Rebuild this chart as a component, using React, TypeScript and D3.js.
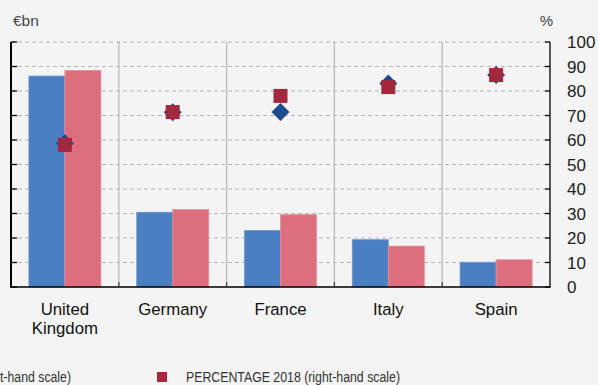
import React from "react";
import * as d3 from "d3";

const categories = ["United Kingdom", "Germany", "France", "Italy", "Spain"];
const amount2017 = [86.1, 30.5, 23.1, 19.3, 10.1];
const amount2018 = [88.4, 31.6, 29.5, 16.7, 11.1];
const pct2017 = [58.7, 71.3, 71.4, 83.1, 86.5];
const pct2018 = [58.0, 71.4, 78.0, 81.6, 86.5];
const ticks = [0, 10, 20, 30, 40, 50, 60, 70, 80, 90, 100];

const W = 598, H = 385;
const L = 11, R = 550, T = 42, B = 287;

export default function App() {
  const x = d3.scaleBand<string>().domain(categories).range([L, R]).paddingInner(0).paddingOuter(0);
  const yL = d3.scaleLinear().domain([0, 100]).range([B, T]);
  const yR = d3.scaleLinear().domain([0, 100]).range([B, T]);
  const bw = x.bandwidth();
  const barW = 36;
  const font = "'Liberation Sans', Arial, Helvetica, sans-serif";
  const diamond = (cx: number, cy: number, r: number) =>
    `M${cx},${cy - r}L${cx + r},${cy}L${cx},${cy + r}L${cx - r},${cy}Z`;

  return (
    <svg width={W} height={H} style={{ position: "absolute", left: 0, top: 0, background: "#f4f4f4" }}>
      <rect x={0} y={0} width={W} height={H} fill="#f4f4f4" />
      <text x={13} y={26} fontFamily={font} fontSize={15.5} fill="#444">€bn</text>
      <text x={553} y={26} fontFamily={font} fontSize={15} fill="#444" textAnchor="end">%</text>
      {/* gridlines */}
      {ticks.filter((t) => t > 0).map((t) => (
        <line key={t} x1={L} x2={R} y1={yL(t)} y2={yL(t)} stroke="#b4b4b8" strokeWidth={1.2} strokeDasharray="4,3" />
      ))}
      {/* separators */}
      {categories.slice(1).map((c) => (
        <line key={c} x1={x(c)!} x2={x(c)!} y1={T} y2={B} stroke="#b9b9bd" strokeWidth={1.3} />
      ))}
      {/* bars */}
      {categories.map((c, i) => {
        const cx = x(c)! + bw / 2;
        return (
          <g key={c}>
            <rect x={cx - barW} y={yL(amount2017[i])} width={barW} height={B - yL(amount2017[i])} fill="#4a7fc1" stroke="#6b97cf" strokeWidth={0.8} />
            <rect x={cx} y={yL(amount2018[i])} width={barW} height={B - yL(amount2018[i])} fill="#dc6e7e" stroke="#e68d99" strokeWidth={0.8} />
          </g>
        );
      })}
      {/* markers */}
      {categories.map((c, i) => {
        const cx = x(c)! + bw / 2;
        return <path key={c} d={diamond(cx, yR(pct2017[i]), 9)} fill="#1c4a8c" />;
      })}
      {categories.map((c, i) => {
        const cx = x(c)! + bw / 2;
        return <rect key={c} x={cx - 7} y={yR(pct2018[i]) - 7} width={14} height={14} fill="#a2283e" />;
      })}
      {/* axes */}
      <line x1={L} x2={R} y1={B} y2={B} stroke="#000" strokeWidth={1.5} />
      <line x1={L} x2={L} y1={T} y2={B + 0.75} stroke="#000" strokeWidth={2} />
      <line x1={R} x2={R} y1={T} y2={B + 0.75} stroke="#000" strokeWidth={1.3} />
      {ticks.map((t) => (
        <g key={t}>
          <line x1={L} x2={L + 6} y1={yL(t)} y2={yL(t)} stroke="#000" strokeWidth={1.3} />
          <line x1={R - 5} x2={R} y1={yR(t)} y2={yR(t)} stroke="#000" strokeWidth={1.3} />
          <text x={567} y={yR(t) + 6} fontFamily={font} fontSize={17} fill="#222">{t}</text>
        </g>
      ))}
      {categories.slice(1).map((c) => (
        <line key={c} x1={x(c)!} x2={x(c)!} y1={B} y2={B - 5} stroke="#444" strokeWidth={1.3} />
      ))}
      {/* category labels */}
      {categories.map((c) => {
        const cx = x(c)! + bw / 2;
        const parts = c === "United Kingdom" ? ["United", "Kingdom"] : [c];
        return (
          <text key={c} x={cx} y={315} textAnchor="middle" fontFamily={font} fontSize={16.8} fill="#111">
            {parts.map((p, j) => (
              <tspan key={p} x={cx} dy={j === 0 ? 0 : 19}>{p}</tspan>
            ))}
          </text>
        );
      })}
      {/* legend */}
      <text x={0} y={382} fontFamily={font} fontSize={14} fill="#333" textLength={71} lengthAdjust="spacingAndGlyphs">t-hand scale)</text>
      <rect x={157} y={372} width={10} height={10} fill="#a2283e" />
      <text x={186} y={382} fontFamily={font} fontSize={14} fill="#333" textLength={214} lengthAdjust="spacingAndGlyphs">PERCENTAGE 2018 (right-hand scale)</text>
    </svg>
  );
}
